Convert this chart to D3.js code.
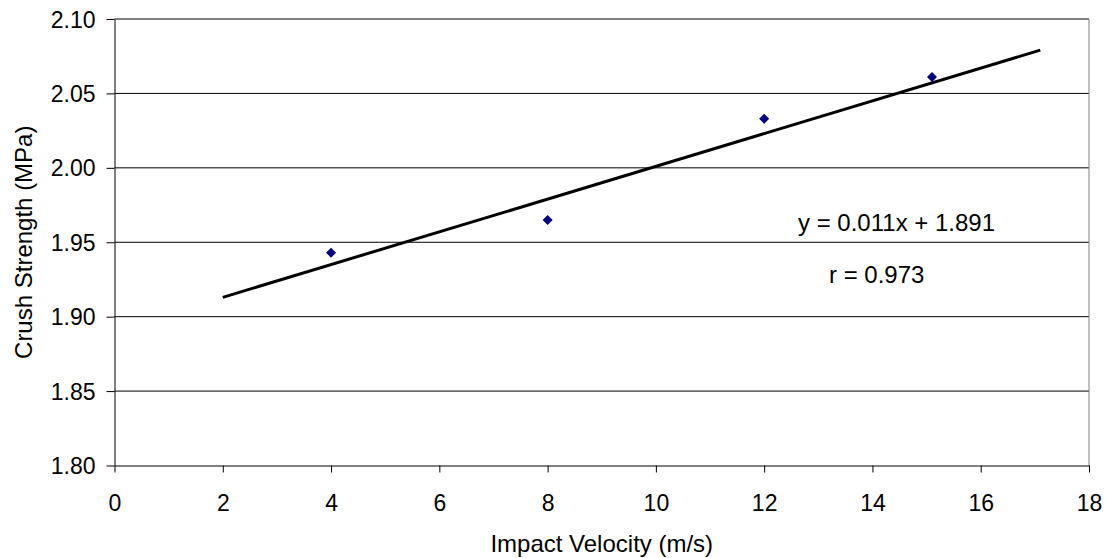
<!DOCTYPE html>
<html>
<head>
<meta charset="utf-8">
<script src="https://cdn.jsdelivr.net/npm/d3@7"></script>
<style>
  html, body { margin: 0; padding: 0; background: #fff; }
  svg { display: block; }
  text { font-family: "Liberation Sans", Arial, sans-serif; fill: #000; }
</style>
</head>
<body>
<script>
// ---- data ----
const velocity = [4, 8, 12, 15.1];
const strength = [1.943, 1.965, 2.033, 2.061];
const trendX = [2, 17.1];
const slope = 0.011;
const intercept = 1.891;
const xTicks = [0, 2, 4, 6, 8, 10, 12, 14, 16, 18];
const yTicks = [1.80, 1.85, 1.90, 1.95, 2.00, 2.05, 2.10];
const equationText = "y = 0.011x + 1.891";
const rText = "r = 0.973";
const xTitle = "Impact Velocity (m/s)";
const yTitle = "Crush Strength (MPa)";

const W = 1106, H = 558;
const L = 114.5, R = 1089, T = 19, B = 465.5;

const svg = d3.select("body").append("svg").attr("width", W).attr("height", H);

const x = d3.scaleLinear().domain([0, 18]).range([L, R]);
const y = d3.scaleLinear().domain([1.80, 2.10]).range([B, T]);

// gridlines
svg.append("g").selectAll("line").data(yTicks.filter(d => d > 1.80)).join("line")
  .attr("x1", L).attr("x2", R)
  .attr("y1", d => y(d)).attr("y2", d => y(d))
  .attr("stroke", "#000").attr("stroke-width", 1);

// right border
svg.append("line").attr("x1", R).attr("x2", R).attr("y1", T).attr("y2", B)
  .attr("stroke", "#808080").attr("stroke-width", 1);

// axes
const fs = 23;
const xAxis = d3.axisBottom(x).tickValues(xTicks).tickFormat(d3.format("d")).tickSize(7).tickSizeOuter(0);
const gx = svg.append("g").attr("transform", `translate(0,${B})`).call(xAxis);
gx.select(".domain").attr("stroke", "#000");
gx.selectAll(".tick line").attr("stroke", "#000");
gx.selectAll(".tick text").attr("font-size", fs).attr("font-family", "Liberation Sans, Arial, sans-serif")
  .attr("dy", null).attr("y", 45);

const yAxis = d3.axisLeft(y).tickValues(yTicks).tickFormat(d3.format(".2f")).tickSize(8).tickSizeOuter(0);
const gy = svg.append("g").attr("transform", `translate(${L},0)`).call(yAxis);
gy.select(".domain").attr("stroke", "#000");
gy.selectAll(".tick line").attr("stroke", "#000");
gy.selectAll(".tick text").attr("font-size", fs).attr("font-family", "Liberation Sans, Arial, sans-serif")
  .attr("x", -19).attr("dy", "0.35em");

// trendline
svg.append("path")
  .datum(trendX)
  .attr("d", d3.line().x(d => x(d)).y(d => y(slope * d + intercept)))
  .attr("stroke", "#000").attr("stroke-width", 3).attr("fill", "none");

// points (diamonds)
const pts = velocity.map((v, i) => [v, strength[i]]);
svg.append("g").selectAll("path").data(pts).join("path")
  .attr("transform", d => `translate(${x(d[0])},${y(d[1])})`)
  .attr("d", "M0,-5L5,0L0,5L-5,0Z")
  .attr("fill", "#000080");

// annotations
svg.append("text").attr("x", 798).attr("y", 231).attr("font-size", 24).text(equationText);
svg.append("text").attr("x", 829).attr("y", 283).attr("font-size", 24).text(rText);

// axis titles
svg.append("text").attr("x", (L + R) / 2).attr("y", 552).attr("text-anchor", "middle")
  .attr("font-size", 24).text(xTitle);
svg.append("text").attr("transform", `translate(32,${(T + B) / 2}) rotate(-90)`)
  .attr("text-anchor", "middle").attr("font-size", 24).text(yTitle);
</script>
</body>
</html>
